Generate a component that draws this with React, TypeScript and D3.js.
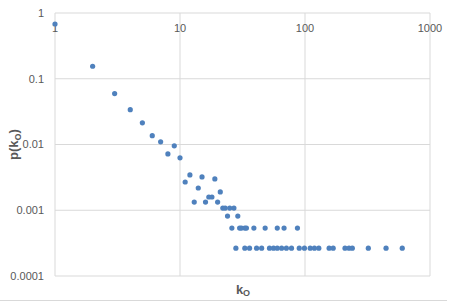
import React from "react";
import * as d3 from "d3";

const width = 453;
const height = 301;
const plot = { left: 55, right: 430, top: 13, bottom: 276 };

// degree k and probability p(k)
const kHead = [1, 2, 3, 4, 5, 6, 7, 8, 9, 10];
const pHead = [0.68, 0.155, 0.0594, 0.0339, 0.0214, 0.0136, 0.011, 0.0072, 0.00955, 0.00627];

const kMid = [11, 12, 13, 14, 15, 16, 17, 18, 19, 20, 21, 22, 23, 24, 25, 27, 29];
const pMid = [
  0.00269, 0.00345, 0.00133, 0.00218, 0.00321, 0.00133, 0.00159, 0.00159, 0.00299,
  0.00133, 0.0019, 0.00108, 0.00108, 0.000815, 0.00108, 0.00108, 0.000815,
];

// two counts => 0.000535
const kTwo = [26, 30, 31, 33, 34, 39, 48, 60, 68, 87];
const pTwo = 0.000535;

// single counts => 0.000265
const kOne = [
  28, 33, 36, 41, 45, 52, 56, 60, 65, 71, 78, 90, 99, 110, 119, 129, 156, 168, 209,
  225, 239, 321, 445, 600,
];
const pOne = 0.000265;

const xTicks = [1, 10, 100, 1000];
const yTicks = [1, 0.1, 0.01, 0.001, 0.0001];
const yTickLabels = ["1", "0.1", "0.01", "0.001", "0.0001"];

const points: [number, number][] = [
  ...kHead.map((k, i) => [k, pHead[i]] as [number, number]),
  ...kMid.map((k, i) => [k, pMid[i]] as [number, number]),
  ...kTwo.map((k) => [k, pTwo] as [number, number]),
  ...kOne.map((k) => [k, pOne] as [number, number]),
];

const grid = "#d9d9d9";
const textColor = "#595959";
const dot = "#4f81bd";
const font = "'Liberation Sans', Arial, sans-serif";

const App = () => {
  const x = d3.scaleLog().domain([1, 1000]).range([plot.left, plot.right]);
  const y = d3.scaleLog().domain([0.0001, 1]).range([plot.bottom, plot.top]);

  return (
    <svg
      width={width}
      height={height}
      style={{ position: "absolute", left: 0, top: 0, fontFamily: font }}
    >
      <rect x={0} y={0} width={width} height={height} fill="#fff" />
      {yTicks.map((t, i) => (
        <g key={"y" + i}>
          <line x1={plot.left} x2={plot.right} y1={y(t)} y2={y(t)} stroke={grid} />
          <text
            x={plot.left - 11}
            y={y(t)}
            dy="0.35em"
            textAnchor="end"
            fontSize={11}
            fill={textColor}
          >
            {yTickLabels[i]}
          </text>
        </g>
      ))}
      {xTicks.map((t, i) => (
        <g key={"x" + i}>
          <line x1={x(t)} x2={x(t)} y1={plot.top} y2={plot.bottom} stroke={grid} />
          <text x={x(t)} y={plot.top + 19} textAnchor="middle" fontSize={11} fill={textColor}>
            {t}
          </text>
        </g>
      ))}
      {points.map(([k, p], i) => (
        <circle key={i} cx={x(k)} cy={y(p)} r={2.6} fill={dot} />
      ))}
      <text
        transform={`translate(18,${(plot.top + plot.bottom) / 2}) rotate(-90)`}
        textAnchor="middle"
        fontSize={13}
        fontWeight="bold"
        fill={textColor}
      >
        p(k
        <tspan fontSize={9} dy={3}>
          O
        </tspan>
        <tspan dy={-3}>)</tspan>
      </text>
      <text x={243} y={294} textAnchor="middle" fontSize={13} fontWeight="bold" fill={textColor}>
        k
        <tspan fontSize={9} dy={2}>
          O
        </tspan>
      </text>
      <line x1={0} x2={447} y1={300.5} y2={300.5} stroke={grid} />
    </svg>
  );
};

export default App;
